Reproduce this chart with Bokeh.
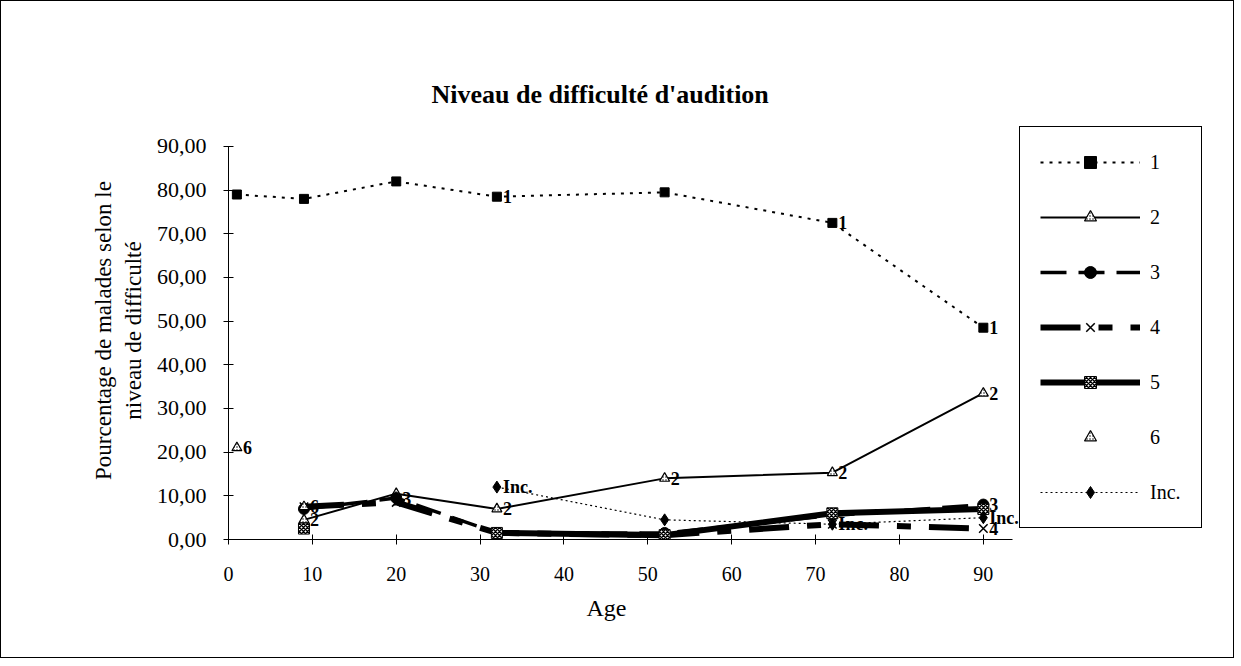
import math
from bokeh.plotting import figure
from bokeh.models import (Legend, LegendItem, CustomJSTickFormatter, FixedTicker,
                          Range1d, Title)
from bokeh.core.properties import value
from bokeh.embed import file_html
from bokeh.resources import INLINE

nan = float("nan")
ages = [1, 9, 20, 32, 52, 72, 90]
s1 = [79.0, 78.0, 82.0, 78.5, 79.5, 72.5, 48.5]
s2 = [nan, 4.5, 10.5, 7.0, 14.0, 15.3, 33.5]
s3 = [nan, 7.0, 9.5, 1.5, 1.5, 5.5, 8.0]
s4 = [nan, 7.5, 8.5, 1.5, 1.0, 3.5, 2.5]
s5 = [nan, 2.5, nan, 1.5, 1.0, 6.0, 7.0]
s6 = [21.0, 7.5, nan, nan, nan, nan, nan]
inc = [nan, nan, nan, 12.0, 4.5, 3.5, 5.0]
series_names = ["1", "2", "3", "4", "5", "6", "Inc."]
y_ticks = [0, 10, 20, 30, 40, 50, 60, 70, 80, 90]
x_ticks = [0, 10, 20, 30, 40, 50, 60, 70, 80, 90]

# data labels: (series index, age index)
label_points = [(0, 3), (0, 5), (0, 6), (1, 1), (1, 3), (1, 4), (1, 5), (1, 6),
                (2, 2), (2, 6), (3, 6), (5, 0), (5, 1), (6, 3), (6, 5), (6, 6)]

SERIF = "Liberation Serif"

# frame: x 227..1215 (x=90 at ~982), y 120..538 (y=0 at 538, y=90 at 145)
p = figure(width=1234, height=658, output_backend="svg", toolbar_location=None,
           x_range=Range1d(0, 117.8), y_range=Range1d(0, 95.72),
           min_border_left=227, min_border_right=19, min_border_top=120,
           min_border_bottom=120)
p.outline_line_color = None
p.xgrid.visible = False
p.ygrid.visible = False
p.styles = {"border": "1.5px solid black"}

p.title.text = "Niveau de difficulté d'audition"
p.title.text_font = SERIF
p.title.text_font_size = "26px"
p.title.text_font_style = "bold"
p.title.text_color = "black"
p.title.align = "left"
p.title.offset = 203
p.title.standoff = 26

for ax in (p.xaxis[0], p.yaxis[0]):
    ax.axis_line_color = "black"
    ax.major_tick_line_color = "black"
    ax.minor_tick_line_color = None
    ax.major_tick_in = 5
    ax.major_tick_out = 5
    ax.major_label_text_font = SERIF
    ax.major_label_text_color = "black"
    ax.axis_label_text_font = SERIF
    ax.axis_label_text_font_style = "normal"
    ax.axis_label_text_color = "black"

p.xaxis.bounds = (0, 93.5)
p.yaxis.bounds = (0, 90)
p.xaxis.ticker = FixedTicker(ticks=x_ticks)
p.yaxis.ticker = FixedTicker(ticks=y_ticks)
p.yaxis.formatter = CustomJSTickFormatter(code="return tick.toFixed(2).replace('.', ',');")
p.xaxis.major_label_text_font_size = "20px"
p.yaxis.major_label_text_font_size = "22px"
p.xaxis.major_label_standoff = 22
p.yaxis.axis_label = "Pourcentage de malades selon le\nniveau de difficulté"
p.yaxis.axis_label_text_font_size = "23px"
p.yaxis.major_label_standoff = 17
p.yaxis.axis_label_standoff = 8

x_title = Title(text="Age", align="left", offset=358, standoff=19,
                text_font=SERIF, text_font_size="24px", text_font_style="normal",
                text_color="black")
p.add_layout(x_title, "below")

all_series = [s1, s2, s3, s4, s5, s6, inc]
items = []

# 1
r1 = p.line(ages, s1, line_color="black", line_width=2, line_dash="3 6")
m1 = p.scatter(ages, s1, marker="square", size=9, fill_color="black", line_color="black")
items.append(LegendItem(label="1", renderers=[r1, m1]))
# 2
r2 = p.line(ages, s2, line_color="black", line_width=2)
m2 = p.scatter(ages, s2, marker="triangle", size=10, fill_color="white", line_color="black",
               line_width=1.2, hatch_pattern="dot", hatch_color="black", hatch_scale=3)
items.append(LegendItem(label="2", renderers=[r2, m2]))
# 3
r3 = p.line(ages, s3, line_color="black", line_width=3.5, line_dash="26 12")
m3 = p.scatter(ages, s3, marker="circle", size=11, fill_color="black", line_color="black")
items.append(LegendItem(label="3", renderers=[r3, m3]))
# 4
r4 = p.line(ages, s4, line_color="black", line_width=6, line_dash="40 18 14 18")
m4 = p.scatter(ages, s4, marker="x", size=12, line_color="black", line_width=1.5)
items.append(LegendItem(label="4", renderers=[r4, m4]))
# 5
r5 = p.line(ages, s5, line_color="black", line_width=6)
m5 = p.scatter(ages, s5, marker="square", size=11, fill_color="white", line_color="black",
               hatch_pattern="x", hatch_color="black", hatch_scale=4, hatch_weight=1.5)
items.append(LegendItem(label="5", renderers=[r5, m5]))
# 6
m6 = p.scatter(ages, s6, marker="triangle", size=10, fill_color="white", line_color="black",
               line_width=1.2, hatch_pattern="dot", hatch_color="black", hatch_scale=3)
items.append(LegendItem(label="6", renderers=[m6]))
# Inc.
r7 = p.line(ages, inc, line_color="black", line_width=1.2, line_dash="2 3")
m7 = p.scatter(ages, inc, marker="diamond", size=12, fill_color="black", line_color="black")
items.append(LegendItem(label="Inc.", renderers=[r7, m7]))

lx, ly, lt = [], [], []
for si, ai in label_points:
    lx.append(ages[ai])
    ly.append(all_series[si][ai])
    lt.append(series_names[si])
p.text(x=lx, y=ly, text=lt, x_offset=6, text_baseline="middle", text_align="left",
       text_font=value(SERIF), text_font_size="18px", text_font_style="bold",
       text_color="black")

legend = Legend(items=items, location=(791, 11))
legend.glyph_width = 100
legend.glyph_height = 30
legend.label_height = 30
legend.spacing = 25
legend.padding = 20
legend.margin = 0
legend.label_standoff = 10
legend.label_text_font = SERIF
legend.label_text_font_size = "20px"
legend.label_text_color = "black"
legend.border_line_color = "black"
legend.border_line_alpha = 1
legend.border_line_width = 1
legend.background_fill_alpha = 1
p.add_layout(legend, "center")

open("out.html", "w").write(file_html(p, INLINE))
